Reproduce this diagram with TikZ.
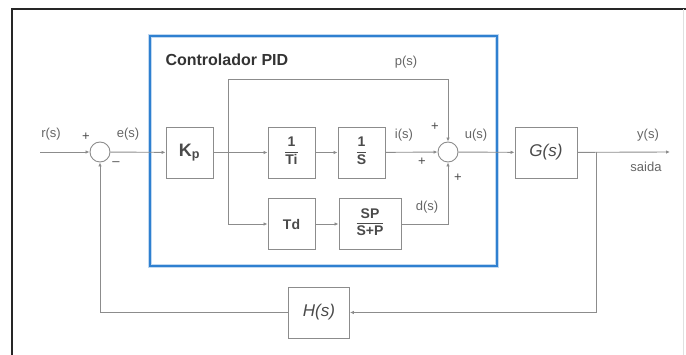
\documentclass[tikz,border=0pt]{standalone}
\usepackage{fontspec}
\setmainfont{Liberation Sans}
\usetikzlibrary{arrows.meta,positioning,calc}
\definecolor{linegray}{HTML}{8C8C8C}
\definecolor{textgray}{HTML}{4A4A4A}
\definecolor{pidblue}{HTML}{2F80D0}
\newcommand{\fsz}[1]{\fontsize{#1}{#1}\selectfont}
\newcommand{\blkfrac}[2]{\renewcommand{\arraystretch}{1.05}\begin{tabular}{@{}c@{}}#1\\[1pt]\hline\rule{0pt}{12pt}#2\end{tabular}}

\begin{document}
\begin{tikzpicture}[x=1pt,y=-1pt,
  blk/.style={draw=linegray,line width=.9pt,minimum width=47pt,minimum height=51pt,inner sep=0pt,text=textgray},
  sumc/.style={draw=linegray,line width=.9pt,circle,minimum size=20pt,inner sep=0pt},
  sig/.style={draw=linegray,line width=.9pt,-{Latex[length=4pt,width=3.5pt]}},
  lab/.style={text=textgray!85,font=\fsz{13}},
  pm/.style={text=textgray,font=\fsz{13}}]
\useasboundingbox (0,0) rectangle (686,355);
% frame and controller box
\draw[line width=1.4pt,black!85] (12,355) -- (12,9) -- (686,9);
\draw[black!12] (683,9) -- (683,355);
\draw[pidblue!30,line width=4.5pt] (150,36) rectangle (497,266);
\draw[pidblue,line width=2.4pt] (150,36) rectangle (497,266);
\node[anchor=west,text=black!80,font=\bfseries\fsz{16}] (title) at (162,60) {Controlador PID};
% blocks
\coordinate (rin) at (40,152);
\node[sumc] (s1) at (100,152) {};
\node[blk,font=\bfseries\fsz{18}] (kp) at (189.5,152.5) {K\textsubscript{p}};
\coordinate (br) at (228,152);
\node[blk,font=\bfseries\fsz{14}] (ti) at (291.5,152.5) {\blkfrac{1}{Ti}};
\node[blk,font=\bfseries\fsz{14}] (si) at (361.5,152.5) {\blkfrac{1}{S}};
\node[sumc] (s2) at (448,152) {};
\coordinate (ptop) at (448,79);
\node[blk,font=\bfseries\fsz{14}] (td) at (291.5,224) {Td};
\node[blk,minimum width=62pt,font=\bfseries\fsz{14}] (sp) at (370,224) {\blkfrac{SP}{S+P}};
\node[blk,minimum width=62pt,font=\itshape\fsz{17}] (g) at (546,152.5) {G(s)};
\coordinate (fb) at (596,152);
\coordinate (out) at (670,152);
\node[blk,minimum width=61pt,font=\itshape\fsz{17}] (h) at (319,312.5) {H(s)};
% signals
\draw[sig] (rin) -- (s1);
\draw[sig] (s1) -- (kp);
\draw[sig] (kp) -- (ti);
\draw[sig] (ti) -- (si);
\draw[sig] (si) -- (s2);
\draw[sig] (br) |- (td);
\draw[sig] (td) -- (sp);
\draw[sig] (sp) -| (s2);
\draw[sig] (br) |- (ptop) -- (s2);
\draw[sig] (s2) -- (g);
\draw[sig] (g) -- (out);
\draw[sig] (fb) |- (h);
\draw[sig] (h) -| (s1);
% labels
\node[lab] (lr) at (51,134) {r(s)};
\node[pm] (p1) at (86,137) {+};
\node[pm] (m1) at (116,164) {--};
\node[lab] (le) at (128,134) {e(s)};
\node[lab] (lp) at (406,62) {p(s)};
\node[lab] (li) at (404,135) {i(s)};
\node[pm] (p2) at (435,127) {+};
\node[pm] (p3) at (422,162) {+};
\node[pm] (p4) at (458,178) {+};
\node[lab] (lu) at (476,135) {u(s)};
\node[lab] (ld) at (427,207) {d(s)};
\node[lab] (ly) at (648,135) {y(s)};
\node[lab] (lo) at (646,167) {saida};
\end{tikzpicture}
\end{document}
